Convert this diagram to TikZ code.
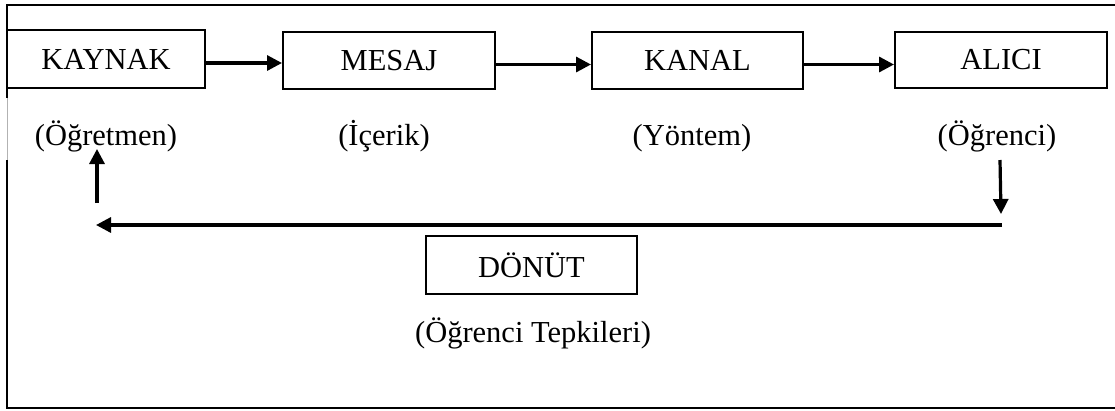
\documentclass[tikz,border=0pt]{standalone}
\usepackage{fontspec}
\setmainfont{Liberation Serif}
\usetikzlibrary{arrows.meta}
\begin{document}
\begin{tikzpicture}[x=1pt,y=-1pt,
  box/.style={draw,line width=2pt,inner sep=0pt,font=\fontsize{30.5}{36}\selectfont},
  lbl/.style={inner sep=0pt,anchor=base,font=\fontsize{30.5}{36}\selectfont},
  conn/.style={line width=3.2pt,-{Triangle[length=15pt,width=15pt]}},
  frame/.style={line width=2pt}]
\useasboundingbox (0,0) rectangle (1115,410);
% outer frame (right edge cut off)
\draw[frame] (1116,5) -- (7,5) -- (7,98);
\draw[line width=1pt,black!30] (7,98) -- (7,160);
\draw[frame] (7,160) -- (7,408) -- (1116,408);
% boxes
\node[box,minimum width=198pt,minimum height=58pt] (kaynak) at (106,59) {KAYNAK};
\node[box,minimum width=212pt,minimum height=57pt] (mesaj) at (389,60.5) {MESAJ};
\node[box,minimum width=211pt,minimum height=57pt] (kanal) at (697.5,60.5) {KANAL};
\node[box,minimum width=212pt,minimum height=56pt] (alici) at (1001,60) {ALICI};
\node[box,minimum width=211pt,minimum height=58pt] (donut) at (531.5,265) {DÖNÜT};
% labels
\node[lbl] (l1) at (106,145) {(Öğretmen)};
\node[lbl] (l2) at (384,145) {(İçerik)};
\node[lbl] (l3) at (692,145) {(Yöntem)};
\node[lbl] (l4) at (997,145) {(Öğrenci)};
\node[lbl] (l5) at (533,342) {(Öğrenci Tepkileri)};
% forward arrows
\draw[conn] ([yshift=-4pt]kaynak.east) -- ([yshift=-4pt]kaynak.east -| mesaj.west);
\draw[conn] ([yshift=-4pt]mesaj.east) -- ([yshift=-4pt]mesaj.east -| kanal.west);
\draw[conn] ([yshift=-4pt]kanal.east) -- ([yshift=-4pt]kanal.east -| alici.west);
% feedback
\coordinate (d1) at (1000,160);
\coordinate (d2) at (1001,214);
\coordinate (h1) at (1002,225);
\coordinate (h2) at (96,225);
\coordinate (u1) at (97,203);
\coordinate (u2) at (97,149);
\draw[conn] (d1) -- (d2);
\draw[conn] (h1) -- (h2);
\draw[conn] (u1) -- (u2);
\end{tikzpicture}
\end{document}
